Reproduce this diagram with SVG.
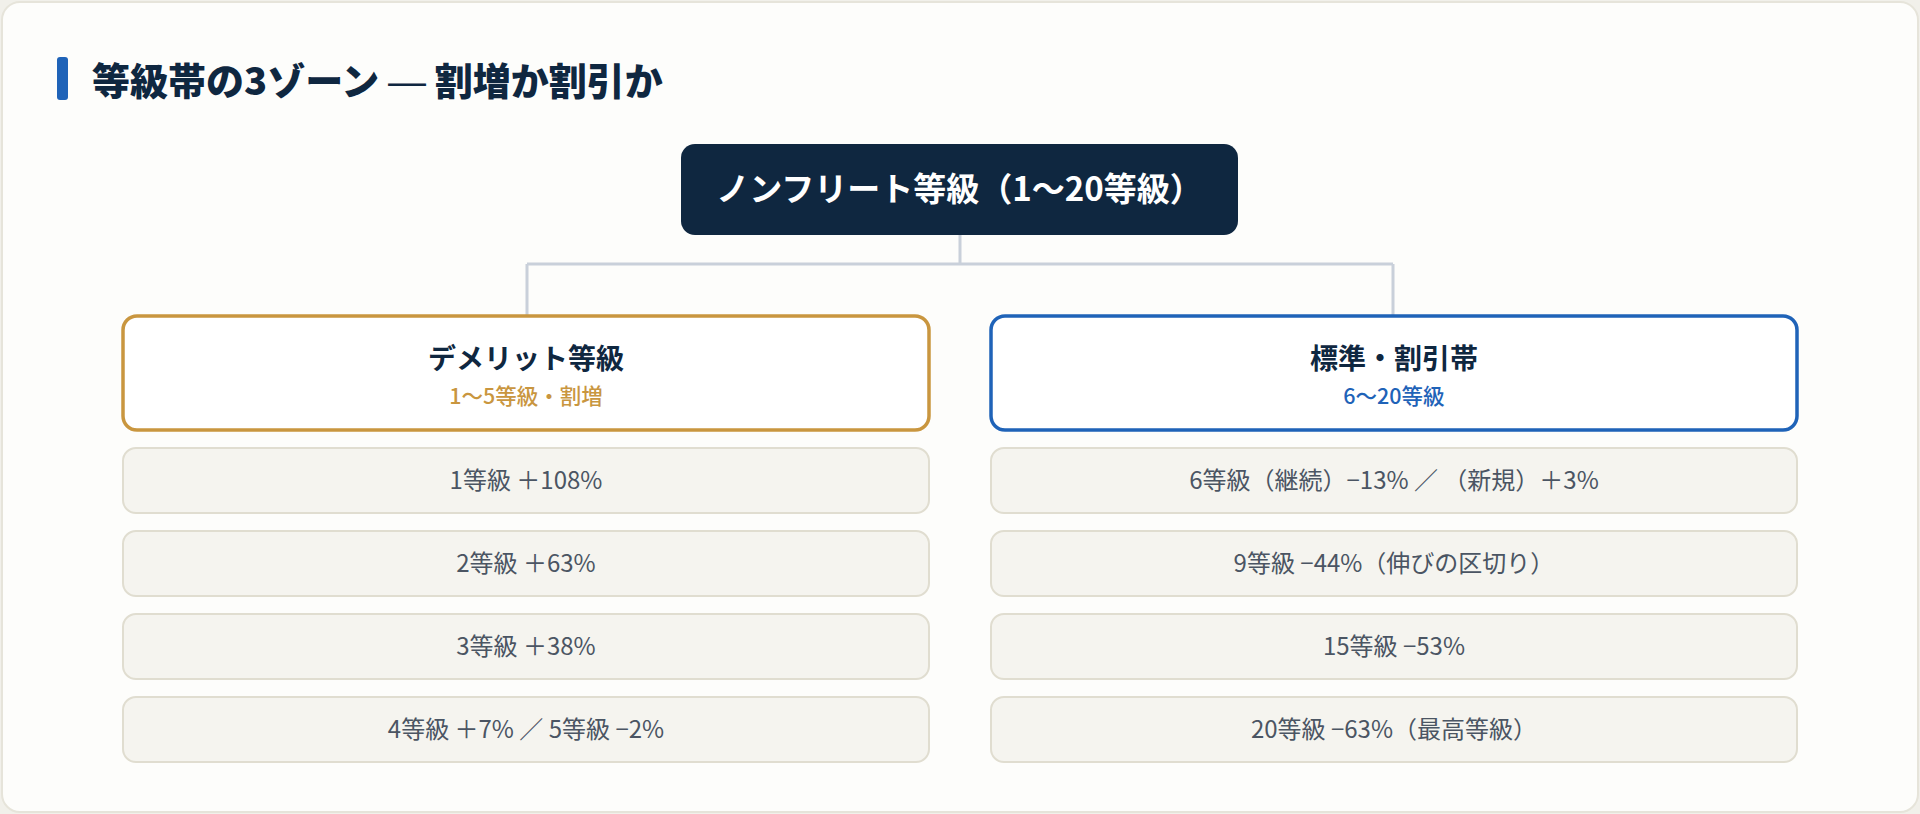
<svg xmlns="http://www.w3.org/2000/svg" width="1920" height="814" viewBox="0 0 1920 814">
<style>
text{font-family:"Noto Sans CJK JP","Noto Sans",sans-serif;text-anchor:middle}
.title{font-size:38px;font-weight:900;fill:#0f2740;text-anchor:start}
.dash{font-family:"Liberation Sans","Noto Sans CJK JP",sans-serif;font-weight:400}
.root{font-size:33px;font-weight:700;fill:#ffffff}
.zt{font-size:28px;font-weight:700;fill:#0f2740}
.zs{font-size:21.5px;font-weight:500}
.row{fill:#f5f4ef;stroke:#e0ddd0;stroke-width:2}
.rt{font-size:24px;font-weight:400;fill:#4b5563}
.conn{fill:none;stroke:#c9d0da;stroke-width:3}
</style>
<rect x="0" y="0" width="1920" height="814" fill="#f1f0ea"/>
<rect x="2" y="2" width="1916" height="810" rx="18" fill="#fdfdfb" stroke="#e6e4da" stroke-width="2"/>
<g id="title">
<rect x="57" y="57" width="11" height="43" rx="3" fill="#1f63b8"/>
<text class="title" x="92" y="95">等級帯の3ゾーン <tspan class="dash">—</tspan> 割増か割引か</text>
</g>
<g id="connectors">
<path class="conn" d="M960 235 V264 M527 264 H1393 M527 264 V316 M1393 264 V316"/>
</g>
<g id="root">
<rect x="681" y="144" width="557" height="91" rx="14" fill="#0f2740"/>
<text class="root" x="959.5" y="201">ノンフリート等級（1〜20等級）</text>
</g>
<g id="zone-demerit">
<rect x="123" y="316" width="806" height="114" rx="14" fill="#ffffff" stroke="#c9963f" stroke-width="3.5"/>
<text class="zt" x="526" y="369">デメリット等級</text>
<text class="zs" x="526" y="404" fill="#c9963f">1〜5等級・割増</text>
</g>
<g id="zone-standard">
<rect x="991" y="316" width="806" height="114" rx="14" fill="#ffffff" stroke="#1f63b8" stroke-width="3.5"/>
<text class="zt" x="1394" y="369">標準・割引帯</text>
<text class="zs" x="1394" y="404" fill="#1f63b8">6〜20等級</text>
</g>
<g id="l1"><rect class="row" x="123" y="448" width="806" height="65" rx="13"/><text class="rt" x="526" y="489">1等級 ＋108%</text></g>
<g id="l2"><rect class="row" x="123" y="531" width="806" height="65" rx="13"/><text class="rt" x="526" y="572">2等級 ＋63%</text></g>
<g id="l3"><rect class="row" x="123" y="614" width="806" height="65" rx="13"/><text class="rt" x="526" y="655">3等級 ＋38%</text></g>
<g id="l4"><rect class="row" x="123" y="697" width="806" height="65" rx="13"/><text class="rt" x="526" y="738">4等級 ＋7% ／ 5等級 −2%</text></g>
<g id="r1"><rect class="row" x="991" y="448" width="806" height="65" rx="13"/><text class="rt" x="1394" y="489">6等級（継続）−13% ／ （新規）＋3%</text></g>
<g id="r2"><rect class="row" x="991" y="531" width="806" height="65" rx="13"/><text class="rt" x="1394" y="572">9等級 −44%（伸びの区切り）</text></g>
<g id="r3"><rect class="row" x="991" y="614" width="806" height="65" rx="13"/><text class="rt" x="1394" y="655">15等級 −53%</text></g>
<g id="r4"><rect class="row" x="991" y="697" width="806" height="65" rx="13"/><text class="rt" x="1394" y="738">20等級 −63%（最高等級）</text></g>
</svg>
